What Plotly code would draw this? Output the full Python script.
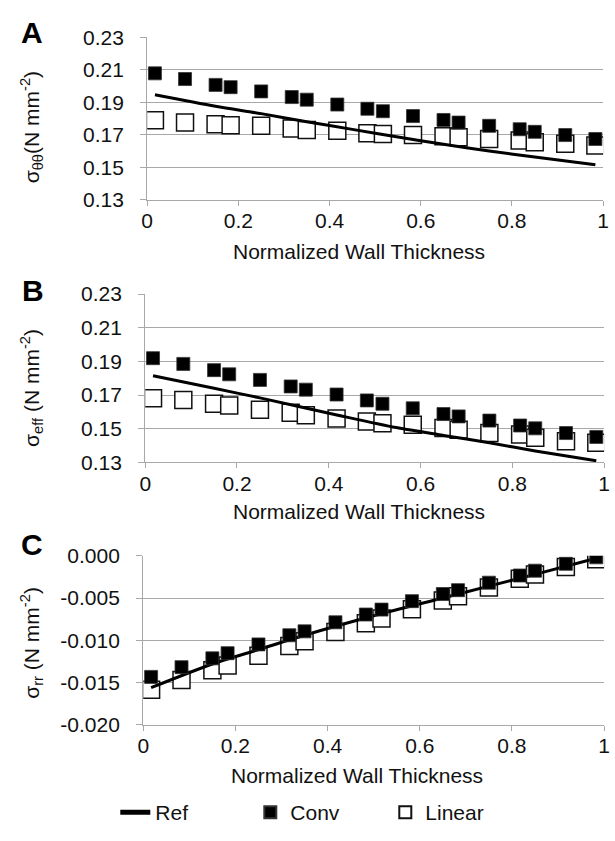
import plotly.graph_objects as go

# ---------------- data ----------------
x_pts = [0.017, 0.083, 0.150, 0.183, 0.250, 0.317, 0.350, 0.417, 0.483,
         0.517, 0.583, 0.650, 0.683, 0.750, 0.817, 0.850, 0.917, 0.983]

# Panel A: hoop stress
a_conv = [0.2078, 0.2043, 0.2007, 0.1993, 0.1967, 0.1932, 0.1916, 0.1886, 0.1860,
          0.1845, 0.1815, 0.1791, 0.1775, 0.1755, 0.1734, 0.1718, 0.1698, 0.1674]
a_lin = [0.1789, 0.1775, 0.1765, 0.1759, 0.1755, 0.1738, 0.1730, 0.1724, 0.1710,
         0.1704, 0.1698, 0.1690, 0.1684, 0.1674, 0.1664, 0.1654, 0.1644, 0.1634]
a_ref_x = [0.017, 0.15, 0.25, 0.35, 0.45, 0.55, 0.65, 0.75, 0.85, 0.983]
a_ref = [0.1946, 0.1875, 0.1830, 0.1780, 0.1733, 0.1686, 0.1641, 0.1600, 0.1563, 0.1515]

# Panel B: effective stress
b_conv = [0.1919, 0.1885, 0.1848, 0.1823, 0.1790, 0.1751, 0.1732, 0.1703, 0.1668,
          0.1648, 0.1621, 0.1587, 0.1573, 0.1548, 0.1519, 0.1502, 0.1474, 0.1451]
b_lin = [0.1681, 0.1671, 0.1648, 0.1638, 0.1613, 0.1594, 0.1580, 0.1561, 0.1542,
         0.1532, 0.1523, 0.1504, 0.1494, 0.1475, 0.1465, 0.1446, 0.1426, 0.1417]
b_ref_x = [0.017, 0.15, 0.25, 0.42, 0.55, 0.65, 0.75, 0.85, 0.983]
b_ref = [0.1815, 0.1740, 0.1683, 0.1580, 0.1505, 0.1460, 0.1416, 0.1368, 0.1310]

# Panel C: radial stress
c_conv = [-0.01432, -0.01317, -0.01213, -0.01152, -0.01048, -0.00940, -0.00894, -0.00787, -0.00695,
          -0.00637, -0.00537, -0.00453, -0.00407, -0.00319, -0.00234, -0.00177, -0.00096, -0.00019]
c_lin = [-0.01585, -0.01470, -0.01355, -0.01298, -0.01182, -0.01067, -0.01010, -0.00902, -0.00798,
         -0.00741, -0.00633, -0.00530, -0.00480, -0.00376, -0.00273, -0.00223, -0.00134, -0.00042]
c_ref_x = [0.017, 0.15, 0.25, 0.35, 0.5, 0.65, 0.75, 0.85, 0.983]
c_ref = [-0.0156, -0.0128, -0.0111, -0.0094, -0.0071, -0.0050, -0.0036, -0.0022, -0.0003]

x_ticks = [0, 0.2, 0.4, 0.6, 0.8, 1]
x_ticktext = ["0", "0.2", "0.4", "0.6", "0.8", "1"]
ab_ticks = [0.13, 0.15, 0.17, 0.19, 0.21, 0.23]
ab_ticktext = ["0.13", "0.15", "0.17", "0.19", "0.21", "0.23"]
c_ticks = [-0.020, -0.015, -0.010, -0.005, 0.000]
c_ticktext = ["-0.020", "-0.015", "-0.010", "-0.005", "0.000"]

panel_letters = ["A", "B", "C"]
y_titles = ["σ<sub>θθ</sub>(N mm<sup>-2</sup>)",
            "σ<sub>eff</sub> (N mm<sup>-2</sup>)",
            "σ<sub>rr</sub> (N mm<sup>-2</sup>)"]
x_title = "Normalized Wall Thickness"
series_names = ["Ref", "Conv", "Linear"]

# ---------------- layout helpers ----------------
W, H = 615, 841
FONT = "Arial, Liberation Sans, sans-serif"
GRID = "#a8a8a8"
TXT = "#111111"

def px_x(p):
    return p / W

def px_y(p):
    return 1 - p / H

# plot-area pixel boxes (left, right, top, bottom)
boxes = [(144, 609, 26, 193), (142, 610, 290, 463), (140, 610, 559, 733)]

fig = go.Figure()

panels = [
    (a_conv, a_lin, a_ref_x, a_ref),
    (b_conv, b_lin, b_ref_x, b_ref),
    (c_conv, c_lin, c_ref_x, c_ref),
]

for i, (conv, lin, rx, ry) in enumerate(panels):
    xa = "x" if i == 0 else f"x{i+1}"
    ya = "y" if i == 0 else f"y{i+1}"
    show = i == 0
    fig.add_trace(go.Scatter(
        x=x_pts, y=lin, mode="markers", name=series_names[2], legendrank=3,
        showlegend=show, xaxis=xa, yaxis=ya,
        marker=dict(symbol="square", size=17, color="white",
                    line=dict(color="#111111", width=1.5))))
    fig.add_trace(go.Scatter(
        x=rx, y=ry, mode="lines", name=series_names[0], legendrank=1,
        showlegend=show, xaxis=xa, yaxis=ya,
        line=dict(color="black", width=3, shape="spline", smoothing=0.8)))
    fig.add_trace(go.Scatter(
        x=x_pts, y=conv, mode="markers", name=series_names[1], legendrank=2,
        showlegend=show, xaxis=xa, yaxis=ya,
        marker=dict(symbol="square", size=13, color="black",
                    line=dict(color="#333333", width=0.8))))

layout = dict(
    width=W, height=H,
    margin=dict(l=0, r=0, t=0, b=0),
    paper_bgcolor="white", plot_bgcolor="white",
    font=dict(family=FONT, size=21, color=TXT),
    showlegend=True,
    legend=dict(orientation="h", x=px_x(318), y=px_y(823), xanchor="center",
                yanchor="middle", font=dict(size=21, color=TXT),
                entrywidth=90, entrywidthmode="pixels",
                bgcolor="rgba(0,0,0,0)", itemsizing="constant"),
)

annotations = []
for i, (l, r, t, b) in enumerate(boxes):
    sfx = "" if i == 0 else str(i + 1)
    if i < 2:
        yr = [0.13, 0.23]
        tv, tt = ab_ticks, ab_ticktext
    else:
        yr = [-0.020, 0.000]
        tv, tt = c_ticks, c_ticktext
    layout["xaxis" + sfx] = dict(
        domain=[px_x(l), px_x(r)], range=[0, 1], anchor="y" + sfx,
        tickvals=x_ticks, ticktext=x_ticktext,
        showgrid=False, zeroline=False, showline=True, linecolor=GRID, linewidth=1.3,
        ticks="outside", ticklen=5, tickcolor=GRID, tickwidth=1.3,
        ticklabelstandoff=-3, tickfont=dict(size=21, color=TXT), fixedrange=True)
    layout["yaxis" + sfx] = dict(
        domain=[px_y(b), px_y(t)], range=yr, anchor="x" + sfx,
        tickvals=tv, ticktext=tt,
        showgrid=True, gridcolor=GRID, gridwidth=1.3,
        zeroline=False, showline=True, linecolor=GRID, linewidth=1.3,
        ticks="outside", ticklen=6, tickcolor=GRID, tickwidth=1.3,
        ticklabelstandoff=12, tickfont=dict(size=21, color=TXT), fixedrange=True)

# panel letters, axis titles
letter_pos = [(27, 21), (28, 286), (27, 547)]
ytitle_pos = [(26, 118), (26, 386), (26, 648)]
xtitle_pos = [(360, 246), (360, 514), (358, 785)]
for i in range(3):
    lx, ly = letter_pos[i]
    annotations.append(dict(text=f"<b>{panel_letters[i]}</b>", x=px_x(lx), y=px_y(ly),
                            xref="paper", yref="paper", showarrow=False,
                            xanchor="center", yanchor="middle",
                            font=dict(size=30, color="black", family=FONT)))
    tx, ty = ytitle_pos[i]
    annotations.append(dict(text=y_titles[i], x=px_x(tx), y=px_y(ty),
                            xref="paper", yref="paper", showarrow=False,
                            xanchor="center", yanchor="middle", textangle=-90,
                            font=dict(size=21, color=TXT, family=FONT)))
    ax_, ay_ = xtitle_pos[i]
    annotations.append(dict(text=x_title, x=px_x(ax_), y=px_y(ay_),
                            xref="paper", yref="paper", showarrow=False,
                            xanchor="center", yanchor="middle",
                            font=dict(size=21, color=TXT, family=FONT)))
layout["annotations"] = annotations

fig.update_layout(**layout)
fig.write_html("out.html", config={"displayModeBar": False})
